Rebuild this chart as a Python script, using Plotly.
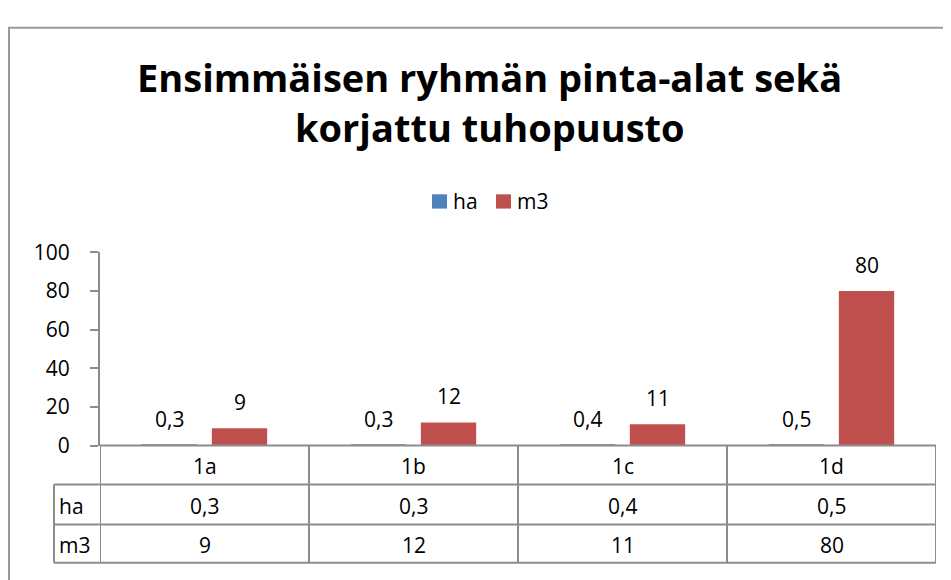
import plotly.graph_objects as go

# chart data
categories = ["1a", "1b", "1c", "1d"]
ha_values = [0.3, 0.3, 0.4, 0.5]
m3_values = [9, 12, 11, 80]
series_names = ["ha", "m3"]
y_ticks = [0, 20, 40, 60, 80, 100]
title_lines = ["Ensimmäisen ryhmän pinta-alat sekä", "korjattu tuhopuusto"]

W, H = 951, 580
OFF = 8  # the page body adds an 8px margin
FONT = "Open Sans"
BLUE = "#4F81BD"
RED = "#C0504D"
LINE = "#8C8C8C"
FS = 21


def fmt(v):
    # Finnish decimal comma
    return str(v).replace(".", ",")


def px(p):
    return (p - OFF) / W


def py(p):
    return 1 - (p - OFF) / H


# plot area in screen pixels
x_left, x_right = 100, 936
y_top, y_bottom = 249, 452
row_lines = [452, 493, 535, 575]

fig = go.Figure()
fig.add_trace(go.Bar(x=categories, y=ha_values, name=series_names[0],
                     marker=dict(color=BLUE, line=dict(width=0))))
fig.add_trace(go.Bar(x=categories, y=m3_values, name=series_names[1],
                     marker=dict(color=RED, line=dict(width=0))))

annotations = []
shapes = []

# title, two lines
for text, yc in zip(title_lines, (65, 117)):
    annotations.append(dict(x=px(490), y=py(yc), xref="paper", yref="paper", text=text,
                            showarrow=False, xanchor="center", yanchor="middle",
                            font=dict(size=38, color="black", family=FONT, weight="bold")))

# legend drawn by hand (small squares like Excel)
for name, color, sx in zip(series_names, (BLUE, RED), (432, 496)):
    shapes.append(dict(type="rect", xref="paper", yref="paper", x0=px(sx), x1=px(sx + 15),
                       y0=py(203), y1=py(188), fillcolor=color, line=dict(width=0)))
    annotations.append(dict(x=px(sx + 19), y=py(195), xref="paper", yref="paper", text=name,
                            showarrow=False, xanchor="left", yanchor="middle",
                            font=dict(size=FS, color="black", family=FONT)))

# data labels above the bars
for series, shift in ((ha_values, -35), (m3_values, 35)):
    for cat, v in zip(categories, series):
        annotations.append(dict(x=cat, y=v, xref="x", yref="y", text=fmt(v),
                                showarrow=False, xshift=shift, yshift=26, yanchor="middle",
                                font=dict(size=FS, color="black", family=FONT)))

# data table under the axis
rows = [(None, categories), (series_names[0], [fmt(v) for v in ha_values]),
        (series_names[1], [fmt(v) for v in m3_values])]
for r, (label, cells) in enumerate(rows):
    yc = (row_lines[r] + row_lines[r + 1]) / 2 + 1
    if label:
        annotations.append(dict(x=px(57), y=py(yc), xref="paper", yref="paper",
                                text=label, showarrow=False, xanchor="left", yanchor="middle",
                                font=dict(size=FS, color="black", family=FONT)))
    for i, c in enumerate(cells):
        annotations.append(dict(x=i, y=py(yc), xref="x", yref="paper", text=c,
                                showarrow=False, yanchor="middle",
                                font=dict(size=FS, color="black", family=FONT)))

line = dict(color=LINE, width=2)
# horizontal lines of the table
shapes.append(dict(type="line", xref="paper", yref="paper", x0=px(x_left), x1=px(x_right),
                   y0=py(row_lines[0]), y1=py(row_lines[0]), line=line))
for yl in row_lines[1:]:
    shapes.append(dict(type="line", xref="paper", yref="paper", x0=px(54), x1=px(x_right),
                       y0=py(yl), y1=py(yl), line=line))
# vertical lines of the table
shapes.append(dict(type="line", xref="paper", yref="paper", x0=px(54), x1=px(54),
                   y0=py(row_lines[1]), y1=py(row_lines[-1]), line=line))
for i in range(len(categories) + 1):
    shapes.append(dict(type="line", xref="x", yref="paper", x0=i - 0.5, x1=i - 0.5,
                       y0=py(row_lines[0]), y1=py(row_lines[-1]), line=line))
# outer chart frame (left and top edges are visible)
shapes.append(dict(type="rect", xref="paper", yref="paper", x0=px(9), x1=1.05,
                   y0=-0.05, y1=py(13), line=dict(color="#9A9A9A", width=2)))

fig.update_layout(
    width=W, height=H,
    margin=dict(l=0, r=0, t=0, b=0),
    paper_bgcolor="white", plot_bgcolor="white",
    font=dict(family=FONT, size=FS, color="black"),
    barmode="group", bargap=0.33, bargroupgap=0.21,
    showlegend=False,
    xaxis=dict(domain=[px(x_left), px(x_right)], range=[-0.5, 3.5],
               showticklabels=False, showgrid=False, zeroline=False, ticks=""),
    yaxis=dict(domain=[py(y_bottom), py(y_top)], range=[0, 100], tickvals=y_ticks,
               showgrid=False, zeroline=False, showline=True, linecolor=LINE, linewidth=2,
               ticks="outside", ticklen=8, tickcolor=LINE, tickwidth=2,
               ticklabelstandoff=16, tickfont=dict(size=FS, family=FONT, color="black")),
    annotations=annotations,
    shapes=shapes,
)

fig.write_html("out.html")
